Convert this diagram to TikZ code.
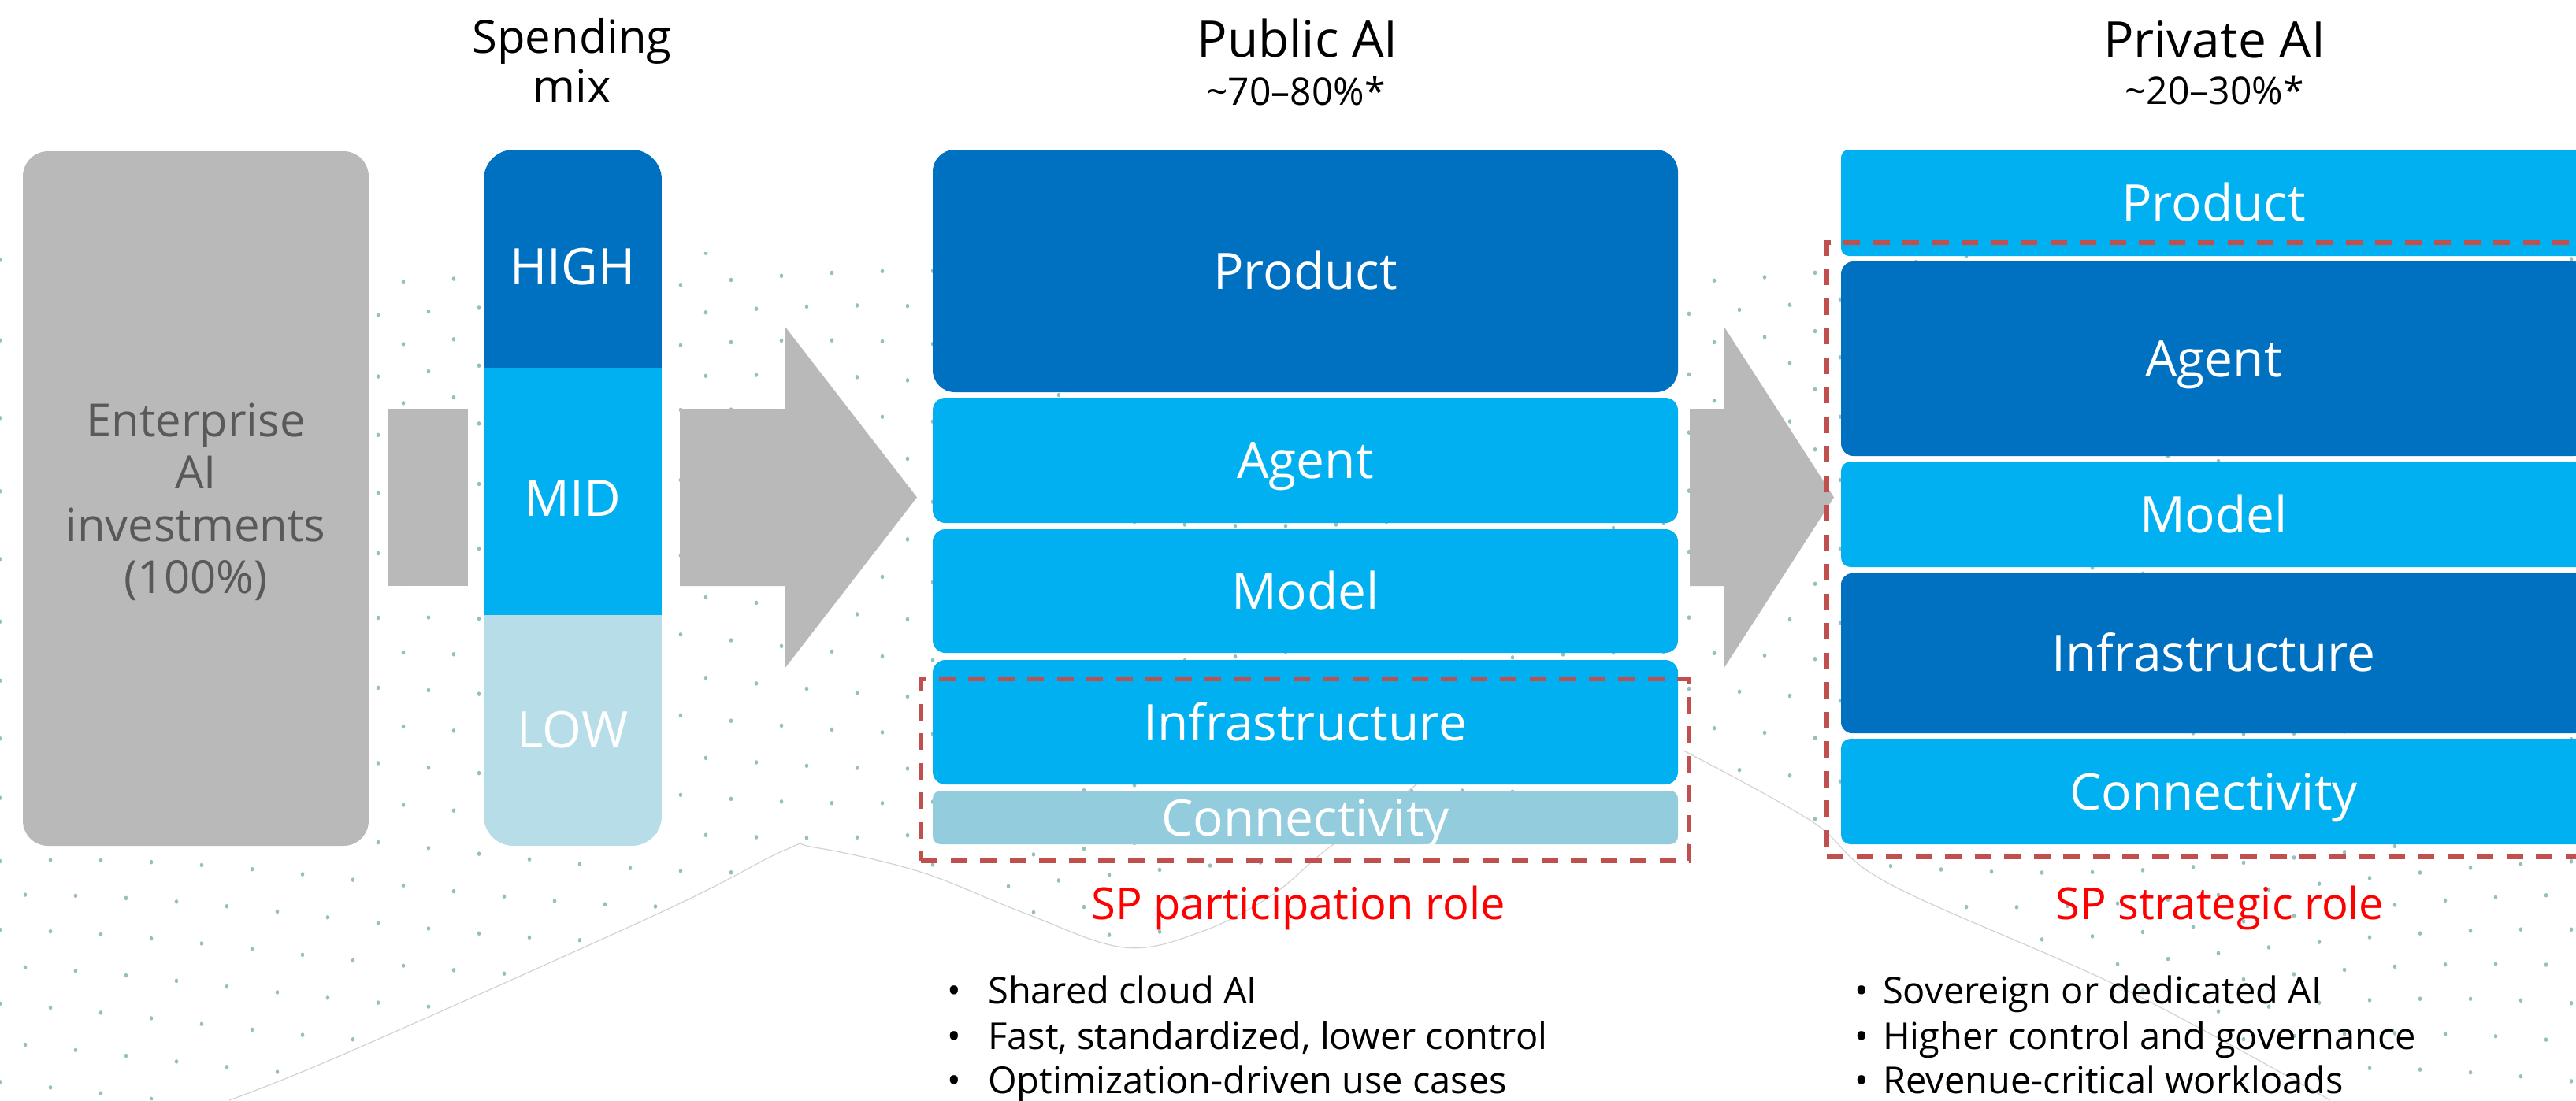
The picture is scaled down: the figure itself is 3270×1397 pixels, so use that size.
\documentclass[tikz,border=0pt]{standalone}
\usepackage{fontspec}
\setmainfont{Open Sans}
\newcommand{\fsz}[1]{\fontsize{#1}{#1}\selectfont}
\definecolor{dblue}{HTML}{0070C0}
\definecolor{lblue}{HTML}{00B0F0}
\definecolor{lowblue}{HTML}{B7DEE8}
\definecolor{conblue}{HTML}{93CDDD}
\definecolor{agray}{HTML}{B9B9B9}
\definecolor{tgray}{HTML}{595959}
\definecolor{dashred}{HTML}{C0504D}
\definecolor{dotteal}{RGB}{80,150,150}
\definecolor{linegray}{HTML}{D2D2D2}
\begin{document}
\begin{tikzpicture}[x=1pt,y=-1pt,
  box/.style={rectangle, inner sep=0pt, minimum width=946pt, text=white, font=\fsz{64}, text height=46pt, text depth=0pt},
  enttxt/.style={anchor=base, inner sep=0pt, text=tgray, font=\fsz{58}},
  ttl/.style={anchor=base, inner sep=0pt, text=black, font=\fsz{64}},
  subttl/.style={anchor=base, inner sep=0pt, text=black, font=\fsz{48}},
  lvl/.style={anchor=base, inner sep=0pt, text=white, font=\fsz{64}},
  role/.style={rectangle, inner sep=0pt, draw=dashred, line width=5.5pt, dash pattern=on 21pt off 16.5pt},
  redl/.style={anchor=base, inner sep=0pt, text=red, font=\fsz{56}},
  bl/.style={anchor=base west, inner sep=0pt, text=black, font=\fsz{47}},
  thinline/.style={draw=linegray, line width=1.2pt},
]
\useasboundingbox (0,0) rectangle (3270,1397);
\clip (0,0) rectangle (3270,1397);

% ---- background dot texture ----
\begin{scope}
\clip (0,320) -- (3270,320) -- (3270,1397) -- (2958,1397)
  -- (2697,1256) -- (2398,1122) -- (2300,1043) -- (2144,952)
  -- (2144,1090) -- (1700,1090) -- (1614,1137) -- (1525,1183)
  -- (1427,1203) -- (1302,1160) -- (1168,1107) -- (1034,1076)
  -- (995,1080) -- (842,1157) -- (440,1337) -- (291,1397) -- (0,1397) -- cycle;
\foreach \r in {0,...,24}{
  \foreach \c in {0,...,52}{
    \pgfmathsetmacro{\xx}{\c*64 + mod(\r,2)*32}
    \pgfmathsetmacro{\yy}{330 + \r*44 + 30*sin(0.22*\xx + 14*\r)}
    \fill[dotteal, fill opacity=0.6] (\xx,\yy) ellipse [x radius=2.3, y radius=2.8];
  }
}
\end{scope}
\draw[thinline] plot[smooth, tension=0.6] coordinates {(291,1397) (440,1337) (842,1157) (995,1080) (1034,1076) (1168,1107) (1302,1160) (1427,1203) (1525,1183) (1614,1137) (1686,1077) (1793,1000) (1870,930)};
\draw[thinline] plot[smooth, tension=0.6] coordinates {(2137,953) (2300,1043) (2398,1122) (2697,1256) (2958,1397)};

% ---- enterprise box ----
\node[rectangle, inner sep=0pt, fill=agray, rounded corners=32pt, minimum width=439pt, minimum height=882pt] (ent) at (248.5,633) {};
\node[enttxt] (ent1) at (248.5,554) {Enterprise};
\node[enttxt] (ent2) at (248.5,620) {AI};
\node[enttxt] (ent3) at (248.5,687) {investments};
\node[enttxt] (ent4) at (248.5,753) {(100\%)};

% ---- link block and arrows ----
\node[rectangle, inner sep=0pt, fill=agray, minimum width=102pt, minimum height=225pt] (link) at (543,631.5) {};
\fill[agray] (863,519) -- (996,519) -- (996,414) -- (1164,631.5) -- (996,849) -- (996,744) -- (863,744) -- cycle;
\fill[agray] (2145,519) -- (2188,519) -- (2188,414) -- (2328,631.5) -- (2188,849) -- (2188,744) -- (2145,744) -- cycle;

% ---- spending mix column ----
\node[ttl, font=\fsz{58}] (mix1) at (726,67) {Spending};
\node[ttl, font=\fsz{58}] (mix2) at (726,130) {mix};
\begin{scope}
\clip[rounded corners=38pt] (614,190) rectangle (840,1074);
\fill[dblue] (614,190) rectangle (840,467);
\fill[lblue] (614,467) rectangle (840,781);
\fill[lowblue] (614,781) rectangle (840,1074);
\end{scope}
\node[lvl] (high) at (727,361) {HIGH};
\node[lvl] (mid) at (727,655) {MID};
\node[lvl] (low) at (727,949) {LOW};

% ---- public AI ----
\node[ttl] (pubt) at (1647,72) {Public AI};
\node[subttl] (pubp) at (1645,133) {\textasciitilde70–80\%*};
\node[box, fill=dblue, rounded corners=28pt, minimum height=308pt] (pubprod) at (1657,344) {Product};
\node[box, fill=lblue, rounded corners=16pt, minimum height=159pt] (pubagent) at (1657,584.5) {Agent};
\node[box, fill=lblue, rounded corners=16pt, minimum height=157pt] (pubmodel) at (1657,750.5) {Model};
\node[box, fill=lblue, rounded corners=16pt, minimum height=158pt] (pubinfra) at (1657,917) {Infrastructure};
\node[box, fill=conblue, rounded corners=10pt, minimum height=68pt] (pubconn) at (1657,1038) {Connectivity};
\node[role, minimum width=975pt, minimum height=231pt] (pubrole) at (1656.5,977.5) {};
\node[redl] (pubsp) at (1648,1167) {SP participation role};
\node[bl] (pb1) at (1202,1274) {\makebox[52pt][l]{•}Shared cloud AI};
\node[bl] (pb2) at (1202,1332) {\makebox[52pt][l]{•}Fast, standardized, lower control};
\node[bl] (pb3) at (1202,1388) {\makebox[52pt][l]{•}Optimization-driven use cases};

% ---- private AI ----
\node[ttl] (privt) at (2811,74) {Private AI};
\node[subttl] (privp) at (2811,132) {\textasciitilde20–30\%*};
\node[box, fill=lblue, rounded corners=10pt, minimum height=135pt] (privprod) at (2810,257.5) {Product};
\node[box, fill=dblue, rounded corners=16pt, minimum height=247pt] (privagent) at (2810,455.5) {Agent};
\node[box, fill=lblue, rounded corners=12pt, minimum height=134pt] (privmodel) at (2810,653) {Model};
\node[box, fill=dblue, rounded corners=14pt, minimum height=203pt] (privinfra) at (2810,829.5) {Infrastructure};
\node[box, fill=lblue, rounded corners=12pt, minimum height=134pt] (privconn) at (2810,1005) {Connectivity};
\node[role, minimum width=981pt, minimum height=780pt] (privrole) at (2809.5,698) {};
\node[redl] (privsp) at (2818,1167) {SP strategic role};
\node[bl] (vb1) at (2354,1274) {\makebox[36pt][l]{•}Sovereign or dedicated AI};
\node[bl] (vb2) at (2354,1332) {\makebox[36pt][l]{•}Higher control and governance};
\node[bl] (vb3) at (2354,1388) {\makebox[36pt][l]{•}Revenue-critical workloads};
\end{tikzpicture}
\end{document}
